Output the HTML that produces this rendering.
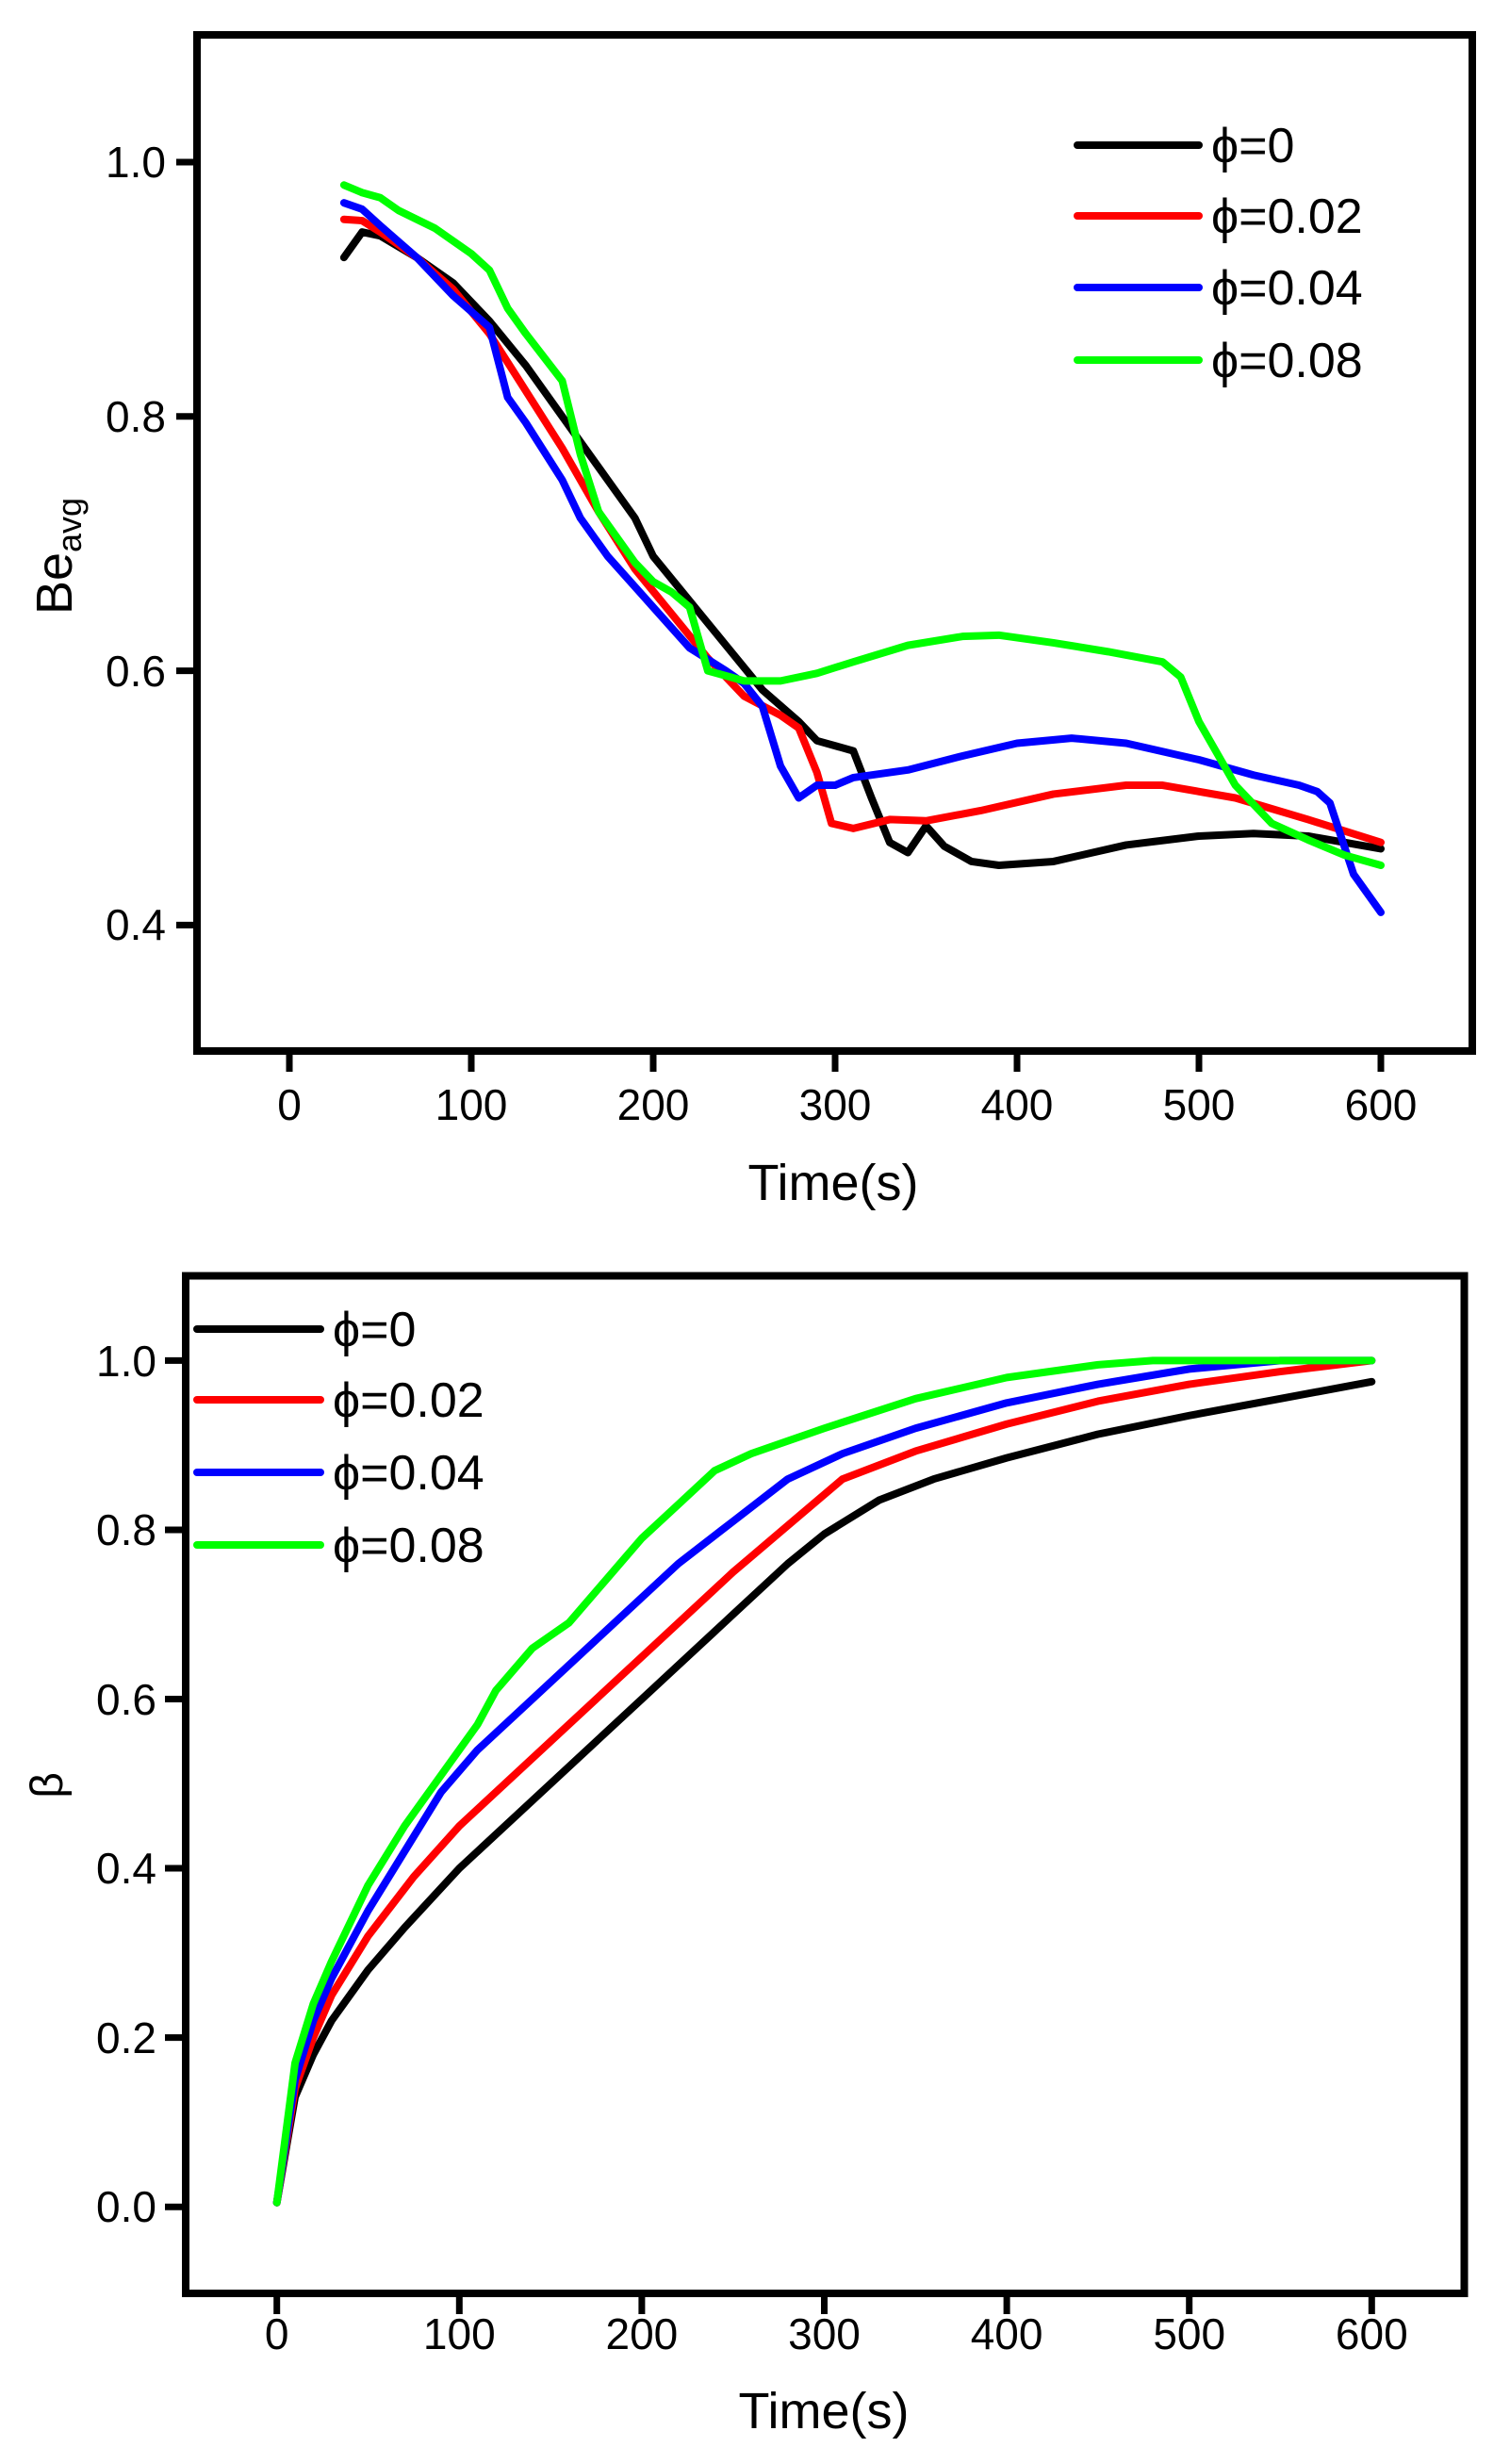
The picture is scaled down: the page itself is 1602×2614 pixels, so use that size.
<!DOCTYPE html>
<html><head><meta charset="utf-8"><style>
html,body{margin:0;padding:0;background:#fff}
svg{display:block}
text{font-family:"Liberation Sans",Arial,sans-serif;fill:#000}
</style></head><body>
<svg width="1602" height="2614" viewBox="0 0 1602 2614" xmlns="http://www.w3.org/2000/svg">
<rect width="1602" height="2614" fill="#fff"/>
<!-- TOP CHART -->
<g fill="none" stroke-linejoin="round" stroke-linecap="round">
<g transform="matrix(1.930,0,0,-1349,307,1521)">
<polyline vector-effect="non-scaling-stroke" stroke="#000" stroke-width="8" points="30,0.925 40,0.945 50,0.942 70,0.925 90,0.905 110,0.875 130,0.84 150,0.80 170,0.76 190,0.72 200,0.69 220,0.655 240,0.62 260,0.585 280,0.56 290,0.545 310,0.537 320,0.50 330,0.465 340,0.457 350,0.478 360,0.462 375,0.45 390,0.447 420,0.45 460,0.463 500,0.47 530,0.472 560,0.47 600,0.46"/>
<polyline vector-effect="non-scaling-stroke" stroke="#f00" stroke-width="8" points="30,0.955 40,0.954 50,0.945 70,0.925 90,0.9 110,0.865 130,0.82 150,0.775 170,0.725 190,0.68 210,0.645 230,0.61 250,0.58 270,0.565 280,0.555 290,0.52 298,0.48 310,0.476 330,0.483 350,0.482 380,0.49 420,0.503 460,0.51 480,0.51 520,0.5 560,0.483 600,0.465"/>
<polyline vector-effect="non-scaling-stroke" stroke="#00f" stroke-width="8" points="30,0.968 40,0.963 50,0.95 70,0.925 90,0.895 110,0.87 120,0.815 130,0.795 150,0.75 160,0.72 175,0.69 200,0.65 220,0.618 240,0.6 250,0.59 260,0.572 270,0.525 280,0.5 290,0.51 300,0.51 310,0.516 340,0.522 370,0.533 400,0.543 430,0.547 460,0.543 500,0.53 530,0.518 555,0.51 565,0.505 572,0.496 585,0.44 600,0.41"/>
<polyline vector-effect="non-scaling-stroke" stroke="#0f0" stroke-width="8" points="30,0.982 40,0.976 50,0.972 60,0.962 80,0.948 100,0.928 110,0.915 120,0.885 130,0.865 150,0.828 160,0.77 170,0.725 190,0.685 200,0.67 210,0.662 220,0.65 230,0.6 250,0.592 270,0.592 290,0.598 310,0.607 340,0.62 370,0.627 390,0.628 420,0.622 450,0.615 480,0.607 490,0.595 500,0.56 520,0.51 540,0.48 560,0.467 580,0.455 600,0.447"/>
</g>
<rect x="209" y="37" width="1353" height="1078" stroke="#000" stroke-width="8" stroke-linecap="butt" stroke-linejoin="miter"/>
<g stroke="#000" stroke-width="7" stroke-linecap="butt">
<line x1="307" y1="1115" x2="307" y2="1137"/><line x1="500" y1="1115" x2="500" y2="1137"/><line x1="693" y1="1115" x2="693" y2="1137"/><line x1="886" y1="1115" x2="886" y2="1137"/><line x1="1079" y1="1115" x2="1079" y2="1137"/><line x1="1272" y1="1115" x2="1272" y2="1137"/><line x1="1465" y1="1115" x2="1465" y2="1137"/>
<line x1="187" y1="172" x2="209" y2="172"/><line x1="187" y1="441.8" x2="209" y2="441.8"/><line x1="187" y1="711.6" x2="209" y2="711.6"/><line x1="187" y1="981.4" x2="209" y2="981.4"/>
</g>
<g stroke-width="8">
<line x1="1143" y1="154" x2="1272" y2="154" stroke="#000"/>
<line x1="1143" y1="229" x2="1272" y2="229" stroke="#f00"/>
<line x1="1143" y1="305" x2="1272" y2="305" stroke="#00f"/>
<line x1="1143" y1="382" x2="1272" y2="382" stroke="#0f0"/>
</g>
</g>
<g font-size="46" text-anchor="end">
<text x="176" y="188">1.0</text><text x="176" y="458">0.8</text><text x="176" y="728">0.6</text><text x="176" y="997">0.4</text>
</g>
<g font-size="46" text-anchor="middle">
<text x="307" y="1188">0</text><text x="500" y="1188">100</text><text x="693" y="1188">200</text><text x="886" y="1188">300</text><text x="1079" y="1188">400</text><text x="1272" y="1188">500</text><text x="1465" y="1188">600</text>
</g>
<text x="884" y="1273" font-size="54" text-anchor="middle">Time(s)</text>
<text transform="translate(76,590) rotate(-90)" font-size="54" text-anchor="middle">Be<tspan font-size="36" dy="10">avg</tspan></text>
<g font-size="52">
<text x="1285" y="172">ϕ=0</text><text x="1285" y="247">ϕ=0.02</text><text x="1285" y="323">ϕ=0.04</text><text x="1285" y="400">ϕ=0.08</text>
</g>

<!-- BOTTOM CHART -->
<g fill="none" stroke-linejoin="round" stroke-linecap="round">
<g transform="matrix(1.936,0,0,-897.8,293.7,2341.2)">
<polyline vector-effect="non-scaling-stroke" stroke="#000" stroke-width="8" points="0,0.005 10,0.13 20,0.18 30,0.22 50,0.28 70,0.33 100,0.40 150,0.50 200,0.6 250,0.7 280,0.76 300,0.795 330,0.835 360,0.86 400,0.885 450,0.913 500,0.935 550,0.955 600,0.975"/>
<polyline vector-effect="non-scaling-stroke" stroke="#f00" stroke-width="8" points="0,0.005 10,0.14 20,0.2 30,0.25 50,0.32 75,0.39 100,0.45 150,0.55 200,0.65 250,0.75 280,0.805 310,0.86 350,0.893 400,0.925 450,0.952 500,0.972 550,0.987 600,1.0"/>
<polyline vector-effect="non-scaling-stroke" stroke="#00f" stroke-width="8" points="0,0.005 10,0.15 20,0.22 30,0.27 50,0.35 70,0.42 90,0.49 110,0.54 140,0.6 180,0.68 220,0.76 250,0.81 280,0.86 310,0.89 350,0.92 400,0.95 450,0.972 500,0.99 550,1.0 600,1.0"/>
<polyline vector-effect="non-scaling-stroke" stroke="#0f0" stroke-width="8" points="0,0.005 10,0.17 20,0.24 30,0.29 50,0.38 70,0.45 90,0.51 110,0.57 120,0.61 140,0.66 160,0.69 180,0.74 200,0.79 220,0.83 240,0.87 260,0.89 300,0.92 350,0.955 400,0.98 450,0.995 480,1.0 600,1.0"/>
</g>
<rect x="197" y="1353.5" width="1356.5" height="1079.5" stroke="#000" stroke-width="8" stroke-linecap="butt" stroke-linejoin="miter"/>
<g stroke="#000" stroke-width="7" stroke-linecap="butt">
<line x1="293.7" y1="2433" x2="293.7" y2="2455"/><line x1="487.3" y1="2433" x2="487.3" y2="2455"/><line x1="680.9" y1="2433" x2="680.9" y2="2455"/><line x1="874.5" y1="2433" x2="874.5" y2="2455"/><line x1="1068.1" y1="2433" x2="1068.1" y2="2455"/><line x1="1261.7" y1="2433" x2="1261.7" y2="2455"/><line x1="1455.3" y1="2433" x2="1455.3" y2="2455"/>
<line x1="175" y1="1443.4" x2="197" y2="1443.4"/><line x1="175" y1="1623" x2="197" y2="1623"/><line x1="175" y1="1802.5" x2="197" y2="1802.5"/><line x1="175" y1="1982" x2="197" y2="1982"/><line x1="175" y1="2161.6" x2="197" y2="2161.6"/><line x1="175" y1="2341.2" x2="197" y2="2341.2"/>
</g>
<g stroke-width="8">
<line x1="209" y1="1410" x2="340" y2="1410" stroke="#000"/>
<line x1="209" y1="1485" x2="340" y2="1485" stroke="#f00"/>
<line x1="209" y1="1562" x2="340" y2="1562" stroke="#00f"/>
<line x1="209" y1="1639" x2="340" y2="1639" stroke="#0f0"/>
</g>
</g>
<g font-size="46" text-anchor="end">
<text x="166" y="1460">1.0</text><text x="166" y="1639">0.8</text><text x="166" y="1819">0.6</text><text x="166" y="1998">0.4</text><text x="166" y="2178">0.2</text><text x="166" y="2357">0.0</text>
</g>
<g font-size="46" text-anchor="middle">
<text x="293.7" y="2492">0</text><text x="487.3" y="2492">100</text><text x="680.9" y="2492">200</text><text x="874.5" y="2492">300</text><text x="1068.1" y="2492">400</text><text x="1261.7" y="2492">500</text><text x="1455.3" y="2492">600</text>
</g>
<text x="874" y="2576" font-size="54" text-anchor="middle">Time(s)</text>
<text transform="translate(66,1894) rotate(-90)" font-size="48" text-anchor="middle">β</text>
<g font-size="52">
<text x="353" y="1428">ϕ=0</text><text x="353" y="1503">ϕ=0.02</text><text x="353" y="1580">ϕ=0.04</text><text x="353" y="1657">ϕ=0.08</text>
</g>
</svg>
</body></html>
